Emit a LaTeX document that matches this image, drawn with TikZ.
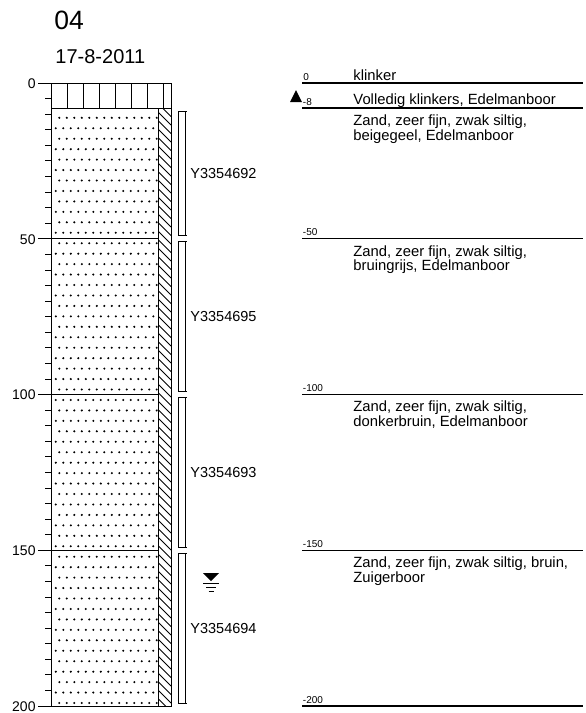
\documentclass[tikz,border=0pt]{standalone}
\usepackage{fontspec}
\setmainfont{Liberation Sans}
\begin{document}
\begin{tikzpicture}[x=1pt,y=-1pt,line width=0.9pt]
\tikzset{
  axlab/.style={anchor=east, inner sep=0pt, font=\fontsize{14}{14}\selectfont},
  desc/.style={anchor=base west, inner sep=0pt, align=left, font=\fontsize{14.8}{13.5}\selectfont},
  dlab/.style={anchor=base west, inner sep=0pt, font=\fontsize{10}{10}\selectfont},
  samplab/.style={anchor=west, inner sep=0pt, font=\fontsize{14.5}{14.5}\selectfont},
  layline/.style={line width=1.2pt},
  sampbar/.style={line width=0.8pt},
}
\useasboundingbox (0,0) rectangle (586,713);
% titles
\node[anchor=base west, inner sep=0pt, font=\fontsize{26.5}{26.5}\selectfont] (title) at (54,29) {04};
\node[anchor=base west, inner sep=0pt, font=\fontsize{20}{20}\selectfont] (date) at (55,63) {17-8-2011};
% dots
\begin{scope}
\clip (51,108) rectangle (157.5,706);
\foreach \k in {0,...,58} {
  \foreach \i in {0,...,13} {
    \fill ({59.3+7.5*\i-3.5*mod(\k,2)}, {703-10.45*\k}) circle (1.15);
  }
}
\end{scope}
% hatch strip
\begin{scope}
\clip (158,108) rectangle (171,706);
\foreach \y in {95,103.5,...,710} {
  \draw[line width=0.85pt] (158,\y) -- (171,\y+13);
}
\end{scope}
% klinker cells
\foreach \x in {67,83,99,115,131,147,163} {
  \draw (\x,83) -- (\x,108);
}
% layer boundaries
\draw (51,108) -- (171,108);
\draw (51,238.75) -- (158,238.75);
\draw (51,394.5) -- (158,394.5);
\draw (51,550.25) -- (158,550.25);
\draw (158,108) -- (158,706);
% outline
\draw (51,83) rectangle (171,706);
% ticks
\foreach \d in {5,10,...,195} {
  \draw[line width=0.8pt] (45,{83+3.115*\d}) -- (51,{83+3.115*\d});
}
\foreach \d/\nm in {0/a,50/b,100/c,150/d,200/e} {
  \draw (38,{83+3.115*\d}) -- (51,{83+3.115*\d});
  \node[axlab] (ax\nm) at (36,{83.5+3.115*\d}) {\d};
}
% samples
\foreach \t/\b/\lab/\nm in {111/235.75/Y3354692/s1, 241.75/391.5/Y3354695/s2, 397.5/547.25/Y3354693/s3, 553.25/703/Y3354694/s4} {
  \draw[sampbar] (178.5,\t) rectangle (185,\b);
  \draw[sampbar] (185,\t) -- (187,\t);
  \draw[sampbar] (185,\b) -- (187,\b);
  \node[samplab] (\nm) at (190,{(\t+\b)/2}) {\lab};
}
% water level
\fill (203,573) -- (219,573) -- (211,581) -- cycle;
\draw[line width=0.8pt] (203,583) -- (219,583);
\draw[line width=0.8pt] (206,587) -- (216,587);
\draw[line width=0.8pt] (208.5,591) -- (213.5,591);
% right side
\foreach \d/\y in {0/83, -8/107.9, -50/238.75, -100/394.5, -150/550.25, -200/706} {
  \draw[layline] (302,\y) -- (583,\y);
}
\node[dlab] (d0) at (303,80) {0};
\node[dlab] (d8) at (302.5,105.5) {-8};
\node[dlab] (d50) at (302.5,235.75) {-50};
\node[dlab] (d100) at (302.5,391.5) {-100};
\node[dlab] (d150) at (302.5,547.25) {-150};
\node[dlab] (d200) at (302.5,703) {-200};
\fill (290,102) -- (302,102) -- (296,90) -- cycle;
\node[desc] (l0) at (353,80) {klinker};
\node[desc] (l1) at (353,104.5) {Volledig klinkers, Edelmanboor};
\node[desc] (l2) at (353,140) {Zand, zeer fijn, zwak siltig,\\beigegeel, Edelmanboor};
\node[desc] (l3) at (353,270.8) {Zand, zeer fijn, zwak siltig,\\bruingrijs, Edelmanboor};
\node[desc] (l4) at (353,426.5) {Zand, zeer fijn, zwak siltig,\\donkerbruin, Edelmanboor};
\node[desc] (l5) at (353,582.3) {Zand, zeer fijn, zwak siltig, bruin,\\Zuigerboor};
\end{tikzpicture}
\end{document}
